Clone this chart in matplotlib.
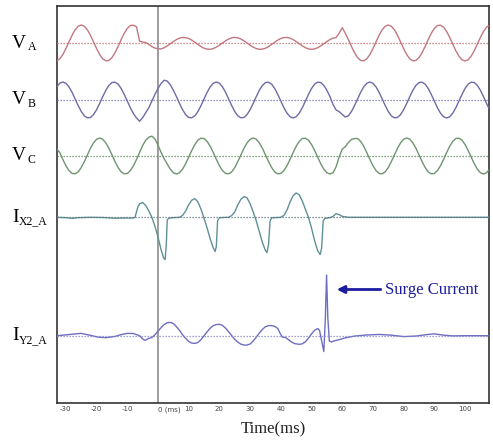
import numpy as np
import matplotlib
matplotlib.use('Agg')
import matplotlib.pyplot as plt

# sampled waveforms, values in per-unit of the phase voltage peak
T_GRID = np.arange(-33, 109)  # ms, 1 ms steps for the voltage traces

VA = [-0.99, -0.88, -0.64, -0.31, 0.06, 0.43, 0.73, 0.93, 1.00, 0.93,
      0.73, 0.43, 0.06, -0.31, -0.64, -0.88, -0.99, -0.97, -0.81, -0.54,
      -0.19, 0.19, 0.54, 0.81, 0.97, 0.99, 0.90, 0.10, 0.05, 0.03,
      -0.08, -0.20, -0.28, -0.32, -0.33, -0.26, -0.16, -0.04, 0.08, 0.19,
      0.27, 0.31, 0.30, 0.25, 0.16, 0.04, -0.08, -0.20, -0.29, -0.34,
      -0.35, -0.31, -0.23, -0.12, 0.00, 0.12, 0.22, 0.29, 0.31, 0.29,
      0.22, 0.12, 0.00, -0.12, -0.23, -0.31, -0.35, -0.34, -0.29, -0.20,
      -0.08, 0.04, 0.16, 0.25, 0.30, 0.31, 0.27, 0.19, 0.08, -0.04,
      -0.16, -0.26, -0.33, -0.35, -0.33, -0.26, -0.16, -0.04, 0.08, 0.19,
      0.27, 0.30, 0.55, 0.85, 0.54, 0.19, -0.19, -0.54, -0.81, -0.97,
      -0.99, -0.88, -0.64, -0.31, 0.06, 0.43, 0.73, 0.93, 1.00, 0.93,
      0.73, 0.43, 0.06, -0.31, -0.64, -0.88, -0.99, -0.97, -0.81, -0.54,
      -0.19, 0.19, 0.54, 0.81, 0.97, 0.99, 0.88, 0.64, 0.31, -0.06,
      -0.43, -0.73, -0.93, -1.00, -0.93, -0.73, -0.43, -0.06, 0.31, 0.64,
      0.88, 0.99]

VB = [0.73, 0.93, 1.00, 0.93, 0.73, 0.43, 0.06, -0.31, -0.64, -0.88,
      -0.99, -0.97, -0.81, -0.54, -0.19, 0.19, 0.54, 0.81, 0.97, 0.99,
      0.88, 0.64, 0.31, -0.06, -0.43, -0.76, -1.00, -1.18, -0.98, -0.70,
      -0.43, -0.06, 0.31, 0.64, 0.92, 1.10, 1.05, 0.85, 0.54, 0.19,
      -0.19, -0.54, -0.81, -0.97, -0.99, -0.88, -0.64, -0.31, 0.06, 0.43,
      0.73, 0.93, 1.00, 0.93, 0.73, 0.43, 0.06, -0.31, -0.64, -0.88,
      -0.99, -0.97, -0.81, -0.54, -0.19, 0.19, 0.54, 0.81, 0.97, 0.99,
      0.88, 0.64, 0.31, -0.06, -0.43, -0.73, -0.93, -1.00, -0.93, -0.73,
      -0.43, -0.06, 0.31, 0.64, 0.88, 0.99, 0.97, 0.81, 0.54, 0.19,
      -0.25, -0.55, -0.65, -0.80, -0.95, -0.88, -0.64, -0.31, 0.06, 0.43,
      0.73, 0.93, 1.00, 0.93, 0.73, 0.43, 0.06, -0.31, -0.64, -0.88,
      -0.99, -0.97, -0.81, -0.54, -0.19, 0.19, 0.54, 0.81, 0.97, 0.99,
      0.88, 0.64, 0.31, -0.06, -0.43, -0.73, -0.93, -1.00, -0.93, -0.73,
      -0.43, -0.06, 0.31, 0.64, 0.88, 0.99, 0.97, 0.81, 0.54, 0.19,
      -0.19, -0.54]

VC = [0.40, 0.19, -0.19, -0.54, -0.81, -0.97, -0.99, -0.88, -0.64, -0.31,
      0.06, 0.43, 0.73, 0.93, 1.00, 0.93, 0.73, 0.43, 0.06, -0.31,
      -0.64, -0.88, -0.99, -0.97, -0.81, -0.54, -0.19, 0.19, 0.58, 0.88,
      1.05, 1.10, 0.95, 0.60, 0.20, -0.15, -0.45, -0.73, -0.93, -1.00,
      -0.93, -0.73, -0.43, -0.06, 0.31, 0.64, 0.88, 0.99, 0.97, 0.81,
      0.54, 0.19, -0.19, -0.54, -0.81, -0.97, -0.99, -0.88, -0.64, -0.31,
      0.06, 0.43, 0.73, 0.93, 1.00, 0.93, 0.73, 0.43, 0.06, -0.31,
      -0.64, -0.88, -0.99, -0.97, -0.81, -0.54, -0.19, 0.19, 0.54, 0.81,
      0.97, 0.99, 0.88, 0.64, 0.31, -0.06, -0.43, -0.73, -0.93, -1.00,
      -0.93, -0.60, -0.05, 0.38, 0.52, 0.75, 0.92, 0.97, 0.97, 0.81,
      0.54, 0.19, -0.19, -0.54, -0.81, -0.97, -0.99, -0.88, -0.64, -0.31,
      0.06, 0.43, 0.73, 0.93, 1.00, 0.93, 0.73, 0.43, 0.06, -0.31,
      -0.64, -0.88, -0.99, -0.97, -0.81, -0.54, -0.19, 0.19, 0.54, 0.81,
      0.97, 0.99, 0.88, 0.64, 0.31, -0.06, -0.43, -0.73, -0.93, -1.00,
      -0.93, -0.73]

# current traces have sharp edges, so they get their own time samples
IX2_T = [-33, -30, -28, -26, -22, -18, -14, -10, -8, -7.5,
         -7, -6.5, -6, -5, -4, -3, -2, -1, 0, 1,
         1.8, 2.3, 2.7, 3.0, 3.5, 5, 7, 8, 9, 10,
         11, 12, 13, 14, 15, 16, 17, 18, 18.6, 19.0,
         19.4, 20, 23, 24, 25, 26, 27, 28, 29, 30,
         31, 32, 33, 34, 35, 35.5, 36, 36.5, 37, 40,
         41, 42, 43, 44, 45, 46, 47, 48, 49, 50,
         51, 52, 52.8, 53.3, 53.8, 54.3, 56, 57, 58, 59,
         60, 62, 70, 85, 108]
IX2_A = [0.0, -0.02, -0.06, -0.02, 0.0, -0.01, -0.05, -0.04, -0.04, 0.0,
         0.3, 0.6, 0.75, 0.82, 0.65, 0.35, 0.0, -0.5, -1.1, -1.8,
         -2.25, -2.35, -1.5, -0.15, -0.05, -0.02, 0.0, 0.1, 0.35, 0.7,
         0.95, 1.04, 0.85, 0.45, -0.05, -0.6, -1.2, -1.7, -1.9, -1.6,
         -0.2, -0.02, 0.0, 0.1, 0.3, 0.7, 1.0, 1.15, 1.08, 0.75,
         0.3, -0.2, -0.8, -1.4, -1.85, -1.96, -1.5, -0.2, -0.03, 0.0,
         0.1, 0.4, 0.85, 1.2, 1.35, 1.25, 0.9, 0.45, 0.0, -0.6,
         -1.3, -1.85, -2.07, -1.7, -0.2, -0.07, -0.02, 0.05, 0.2, 0.15,
         0.05, 0.0, 0.0, 0.0, 0.0]

IY2_T = [-33, -31, -28, -25, -22, -19.5, -17, -14, -12, -10,
         -8, -6, -5, -4.2, -3, -2, -1, 0, 1, 2,
         3, 4, 5, 6, 7, 8, 9, 10, 11, 12,
         13, 14, 15, 16, 17, 18, 19, 20, 21, 22,
         23, 24, 25, 26, 27, 28, 29, 30, 31, 32,
         33, 34, 35, 36, 37, 38, 39, 39.8, 40.5, 41.5,
         42.5, 43.5, 44.5, 46, 47, 48, 49, 50, 51, 52,
         52.6, 53.3, 54.0, 54.5, 54.9, 55.3, 55.8, 56.5, 57.5, 59,
         61, 64, 68, 72, 76, 80, 84, 88, 90, 93,
         96, 100, 104, 108]
IY2_A = [0.0, 0.03, 0.08, 0.13, 0.02, -0.08, -0.11, -0.04, 0.06, 0.13,
         0.12, 0.0, -0.18, -0.26, -0.15, -0.1, 0.05, 0.25, 0.45, 0.62,
         0.72, 0.74, 0.68, 0.5, 0.3, 0.05, -0.15, -0.32, -0.41, -0.43,
         -0.38, -0.22, 0.0, 0.22, 0.42, 0.56, 0.62, 0.63, 0.57, 0.42,
         0.22, 0.0, -0.2, -0.36, -0.47, -0.52, -0.52, -0.46, -0.3, -0.08,
         0.15, 0.35, 0.5, 0.56, 0.56, 0.52, 0.4, 0.12, -0.08, -0.1,
         -0.22, -0.35, -0.44, -0.48, -0.45, -0.34, -0.14, 0.1, 0.3, 0.4,
         0.3, -0.3, -0.88, 1.0, 3.37, 1.0, -0.3, -0.35, -0.28, -0.22,
         -0.12, -0.02, 0.04, 0.07, 0.03, -0.05, -0.02, 0.07, 0.1, 0.03,
         -0.01, 0.0, 0.0, 0.0]

TICKS = [-30, -20, -10, 0, 10, 20, 30, 40, 50, 60, 70, 80, 90, 100]
TICK_LABELS = ['-30', '-20', '-10', '0 (ms)', '10', '20', '30', '40',
               '50', '60', '70', '80', '90', '100']

# layout in pixels of the 493x443 canvas
W, H = 493, 443
AX_L, AX_R, AX_T, AX_B = 57, 489, 6, 403
PX_PER_UNIT = 18.0
XLIM = (-32.9, 107.8)
SERIF = 'Liberation Serif'

# main letter, subscript, baseline (px from top), x of subscript (px), t, v, line colour, dot colour
TRACES = [
    ('V', 'A', 43, 28, T_GRID, VA, '#c27880', '#c96a70'),
    ('V', 'B', 100, 28, T_GRID, VB, '#6c6ca8', '#7474b4'),
    ('V', 'C', 156, 28, T_GRID, VC, '#6f956f', '#5f8a5f'),
    ('I', 'X2_A', 217.3, 19, IX2_T, IX2_A, '#5f9098', '#5a7278'),
    ('I', 'Y2_A', 335.7, 19, IY2_T, IY2_A, '#6e6ec0', '#8484cc'),
]

fig = plt.figure(figsize=(W / 100, H / 100), dpi=100)
ax = fig.add_axes([AX_L / W, (H - AX_B) / H, (AX_R - AX_L) / W, (AX_B - AX_T) / H])
ax.set_xlim(*XLIM)
ax.set_ylim(0, (AX_B - AX_T) / PX_PER_UNIT)

ylab = ax.get_yaxis_transform()
for main, sub, base_px, sub_px, t, v, col, dot in TRACES:
    off = (AX_B - base_px) / PX_PER_UNIT
    ax.plot(t, off + np.asarray(v), color=col, lw=1.0, zorder=3)
    ax.axhline(off, color=dot, lw=0.9, ls=(0, (1, 1.4)), zorder=4)
    ax.text((12 - AX_L) / (AX_R - AX_L), off - 4.5 / PX_PER_UNIT, main,
            transform=ylab, fontsize=14, family=SERIF, va='baseline', ha='left')
    ax.text((sub_px - AX_L) / (AX_R - AX_L), off - 7 / PX_PER_UNIT, sub,
            transform=ylab, fontsize=8.5, family=SERIF, va='baseline', ha='left')

ax.axvline(0, color='#8c8c8c', lw=1.2, zorder=2)

# surge current callout
y_arrow = (AX_B - 289.5) / PX_PER_UNIT
ax.annotate('Surge Current', xy=(58.2, y_arrow), xytext=(73.9, y_arrow),
            fontsize=12, family=SERIF, color='#1c1ca0', va='center', ha='left',
            arrowprops=dict(arrowstyle='-|>', color='#1c1ca0', lw=2,
                            mutation_scale=11, shrinkA=1, shrinkB=0))

ax.set_yticks([])
ax.set_xticks(TICKS)
labels = ax.set_xticklabels(TICK_LABELS, fontsize=5, color='#444444')
labels[TICKS.index(0)].set_horizontalalignment('left')
ax.tick_params(axis='x', length=0, pad=2.5)
for s in ax.spines.values():
    s.set_color('#333333')
    s.set_linewidth(1.2)

ax.text(0.5, (AX_B - 433) / (AX_B - AX_T), 'Time(ms)', transform=ax.transAxes,
        fontsize=12, family=SERIF, ha='center', va='baseline', color='#222222')

fig.savefig('out.png', dpi=100)
